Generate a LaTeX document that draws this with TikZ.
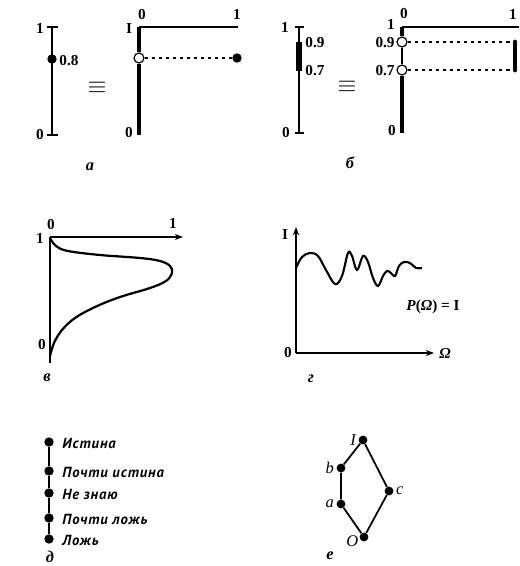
\documentclass[tikz,border=0pt]{standalone}
\usepackage{fontspec}
\setmainfont{Liberation Serif}
\newfontfamily\cyrsans[LetterSpace=6]{PT Sans}
\usetikzlibrary{arrows.meta,positioning}

\tikzset{
  dotn/.style={circle,fill,inner sep=0pt,minimum size=8pt},
  hollow/.style={circle,draw,fill=white,line width=1pt,inner sep=0pt,minimum size=8.5pt},
  num/.style={font=\bfseries\fontsize{13}{13}\selectfont,inner sep=1pt},
  tag/.style={font=\bfseries\itshape\fontsize{14}{14}\selectfont,inner sep=1pt},
  word/.style={font=\cyrsans\bfseries\itshape\fontsize{12.5}{12.5}\selectfont,anchor=west,inner sep=1pt},
  vertex/.style={circle,fill,inner sep=0pt,minimum size=7.5pt},
  letter/.style={font=\itshape\fontsize{14}{14}\selectfont,inner sep=1pt},
  axisline/.style={line width=1.5pt},
  fatline/.style={line width=4.2pt},
  eqv/.style={font=\fontsize{20}{20}\selectfont}
}

\begin{document}
\begin{tikzpicture}[x=0.03cm,y=-0.03cm]
  \useasboundingbox (0,0) rectangle (519,566);

  % panel a
  \draw[axisline] (47,27) -- (58,27);
  \draw[axisline] (47,135) -- (58,135);
  \coordinate (aTop) at (52,27);
  \coordinate (aBot) at (52,135);
  \draw[axisline] (aTop) -- (aBot);
  \node[dotn] (aVal) at (52,59) {};
  \node[num,anchor=west] (aValLbl) at (58,61) {0.8};
  \node[num] (aOne) at (40,28) {1};
  \node[num] (aZero) at (40,135) {0};
  \node[eqv] (aEq) at (97,88) {$\equiv$};

  \coordinate (aCorner) at (139,27);
  \coordinate (aEnd) at (238,27);
  \coordinate (aLow) at (139,135);
  \node[hollow] (aOpen) at (139,58) {};
  \node[dotn] (aFull) at (237,58) {};
  \draw[axisline] (aCorner) -- (aEnd);
  \draw[fatline] (aCorner) -- (aOpen);
  \draw[fatline] (aOpen) -- (aLow);
  \draw[dashed,line width=0.9pt] (aOpen) -- (aFull);
  \node[num] (aTopZero) at (142,15) {0};
  \node[num] (aTopOne) at (237,14) {1};
  \node[num] (aRoman) at (129,29) {I};
  \node[num] (aLowZero) at (129,133) {0};
  \node[tag] (aTag) at (90,167) {а};

  % panel b
  \draw[axisline] (295,27) -- (304,27);
  \draw[axisline] (295,133) -- (304,133);
  \coordinate (bTop) at (299,27);
  \coordinate (bBot) at (299,133);
  \draw[axisline] (bTop) -- (bBot);
  \draw[line width=5.5pt] (299,42) -- (299,71);
  \node[num] (bOne) at (285,27) {1};
  \node[num] (bZero) at (286,133) {0};
  \node[num,anchor=west] (bHi) at (304,43) {0.9};
  \node[num,anchor=west] (bLo) at (304,71) {0.7};
  \node[eqv] (bEq) at (347,87) {$\equiv$};

  \coordinate (bCorner) at (402,27);
  \coordinate (bEnd) at (519,27);
  \coordinate (bLow) at (402,133);
  \coordinate (bRHi) at (515,42);
  \coordinate (bRLo) at (515,70);
  \node[hollow] (bOpenHi) at (402,42) {};
  \node[hollow] (bOpenLo) at (402,70) {};
  \draw[axisline] (bCorner) -- (bEnd);
  \draw[fatline] (bCorner) -- (bOpenHi);
  \draw[axisline] (bOpenHi) -- (bOpenLo);
  \draw[fatline] (bOpenLo) -- (bLow);
  \draw[dashed,line width=0.9pt] (bOpenHi) -- (bRHi);
  \draw[dashed,line width=0.9pt] (bOpenLo) -- (bRLo);
  \draw[fatline,line cap=round] (bRHi) -- (bRLo);
  \node[num] (bTopZero) at (404,14) {0};
  \node[num] (bTopOne) at (513,14) {1};
  \node[num] (bLeftOne) at (391,24) {1};
  \node[num,anchor=east] (bLeftHi) at (396,43) {0.9};
  \node[num,anchor=east] (bLeftLo) at (396,71) {0.7};
  \node[num] (bLowZero) at (392,131) {0};
  \node[tag] (bTag) at (350,163) {б};

  % panel v
  \coordinate (vOrig) at (50,237);
  \coordinate (vDown) at (50,363);
  \coordinate (vRight) at (183,237);
  \draw[line width=1.1pt] (vOrig) -- (vDown);
  \draw[line width=1.1pt,-{Stealth[length=7pt]}] (vOrig) -- (vRight);
  \draw[line width=1.9pt] plot[smooth,tension=0.6] coordinates {
    (50,238) (56,246) (68,251) (100,255) (140,258) (160,261) (170,266)
    (172,273) (166,281) (150,288) (120,297) (95,307) (75,318) (62,330)
    (54,343) (50,356)};
  \node[num] (vTopZero) at (51,225) {0};
  \node[num] (vTopOne) at (173,223) {1};
  \node[num] (vOne) at (40,238) {1};
  \node[num] (vZero) at (42,345) {0};
  \node[tag] (vTag) at (47,378) {в};

  % panel g
  \coordinate (gOrig) at (296,353);
  \coordinate (gUp) at (296,227);
  \coordinate (gRight) at (434,353);
  \draw[line width=1.3pt,-{Stealth[length=7pt]}] (gOrig) -- (gUp);
  \draw[line width=1.3pt,-{Stealth[length=7pt]}] (gOrig) -- (gRight);
  \draw[line width=1.8pt] plot[smooth,tension=0.6] coordinates {
    (296,268) (302,257) (310,253) (318,256) (326,270) (335,284) (342,276)
    (348,253) (352,256) (357,270) (363,256) (368,262) (373,278) (378,286)
    (383,276) (387,271) (391,273) (395,276) (399,266) (404,262) (410,263)
    (416,268) (422,268)};
  \node[num] (gOne) at (285,235) {I};
  \node[num] (gZero) at (288,353) {0};
  \node[num,font=\bfseries\itshape\fontsize{13}{13}\selectfont] (gOmega) at (445,353) {Ω};
  \node[num] (gEqn) at (433,307) {\textit{P}(\textit{Ω}) = I};
  \node[tag] (gTag) at (311,379) {г};

  % panel d
  \node[dotn] (dTrue) at (49,442) {};
  \node[dotn] (dNearTrue) at (49,471) {};
  \node[dotn] (dUnknown) at (49,493) {};
  \node[dotn] (dNearFalse) at (49,518) {};
  \node[dotn] (dFalse) at (49,539) {};
  \draw[axisline] (dTrue) -- (dNearTrue) -- (dUnknown) -- (dNearFalse) -- (dFalse);
  \node[word] (dTrueLbl) at (61,443) {Истина};
  \node[word] (dNearTrueLbl) at (61,472) {Почти истина};
  \node[word] (dUnknownLbl) at (61,494) {Не знаю};
  \node[word] (dNearFalseLbl) at (61,519) {Почти ложь};
  \node[word] (dFalseLbl) at (61,540) {Ложь};
  \node[tag] (dTag) at (50,557) {д};

  % panel e
  \node[vertex] (eI) at (363,440) {};
  \node[vertex] (eB) at (341,468) {};
  \node[vertex] (eA) at (341,504) {};
  \node[vertex] (eO) at (364,537) {};
  \node[vertex] (eC) at (389,491) {};
  \draw[axisline] (eI) -- (eB) -- (eA) -- (eO) -- (eC) -- (eI);
  \node[letter,left=1pt of eI] (eILbl) {I};
  \node[letter,left=1pt of eB] (eBLbl) {b};
  \node[letter,left=1pt of eA] (eALbl) {a};
  \node[letter,below left=-5pt and 1pt of eO] (eOLbl) {O};
  \node[letter,right=1pt of eC] (eCLbl) {c};
  \node[tag] (eTag) at (330,556) {е};
\end{tikzpicture}
\end{document}
